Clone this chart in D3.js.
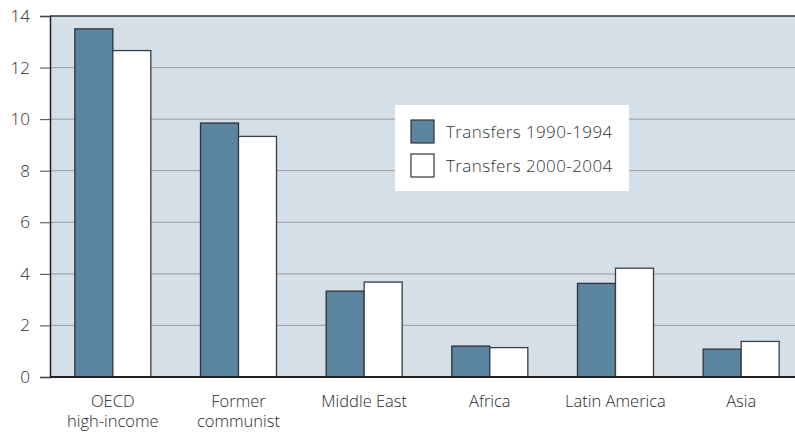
<!DOCTYPE html>
<html><head><meta charset="utf-8">
<script src="https://cdn.jsdelivr.net/npm/d3@7"></script>
<style>
body{margin:0;background:#fff;}
text{font-family:"Open Sans","Noto Sans",sans-serif;font-weight:300;}
</style></head><body>
<svg id="c" width="795" height="432"></svg>
<script>
const categories = [["OECD","high-income"],["Former","communist"],["Middle East"],["Africa"],["Latin America"],["Asia"]];
const transfers1990 = [13.5, 9.85, 3.33, 1.2, 3.63, 1.08];
const transfers2000 = [12.66, 9.33, 3.68, 1.14, 4.22, 1.38];
const seriesNames = ["Transfers 1990-1994", "Transfers 2000-2004"];
const yTicks = [0,2,4,6,8,10,12,14];

const svg = d3.select("#c");
const L=50, T=16, R=795, B=377;
const y = d3.scaleLinear().domain([0,14]).range([B,T]);
const x = d3.scaleBand().domain(d3.range(categories.length)).range([L,804]).padding(0);
const bw = 38;

svg.append("rect").attr("x",L).attr("y",T).attr("width",R-L).attr("height",B-T).attr("fill","#d5dfe8");
svg.append("g").selectAll("line").data(yTicks.filter(d=>d>0&&d<14)).join("line")
  .attr("x1",L).attr("x2",R).attr("y1",d=>y(d)).attr("y2",d=>y(d))
  .attr("stroke","#a2a6aa").attr("stroke-width",1.2);
svg.append("line").attr("x1",L).attr("x2",R).attr("y1",T).attr("y2",T).attr("stroke","#333").attr("stroke-width",1.5);

const g = svg.append("g");
categories.forEach((c,i)=>{
  const cx = x(i)+x.bandwidth()/2;
  g.append("rect").attr("x",cx-bw).attr("y",y(transfers1990[i])).attr("width",bw).attr("height",B-y(transfers1990[i]))
    .attr("fill","#5b84a0").attr("stroke","#2e3338").attr("stroke-width",1.3);
  g.append("rect").attr("x",cx).attr("y",y(transfers2000[i])).attr("width",bw).attr("height",B-y(transfers2000[i]))
    .attr("fill","#fff").attr("stroke","#3a3d40").attr("stroke-width",1.3);
});

const ya = svg.append("g").attr("transform",`translate(${L},0)`)
  .call(d3.axisLeft(y).tickValues(yTicks).tickSize(10).tickPadding(10).tickFormat(d3.format("d")));
ya.select(".domain").attr("stroke","#222").attr("stroke-width",1.5);
ya.selectAll(".tick line").attr("stroke","#444");
ya.selectAll(".tick text").attr("font-size",17).attr("fill","#2a2a2a").attr("font-family","'Open Sans','Noto Sans',sans-serif").attr("font-weight",300);

svg.append("line").attr("x1",L).attr("x2",R).attr("y1",B).attr("y2",B).attr("stroke","#222").attr("stroke-width",2);

categories.forEach((c,i)=>{
  const cx = x(i)+x.bandwidth()/2;
  c.forEach((s,j)=>svg.append("text").attr("x",cx).attr("y",407+j*20)
    .attr("text-anchor","middle").attr("font-size",16.5).attr("fill","#2a2a2a").text(s));
});

const lg = svg.append("g");
lg.append("rect").attr("x",395).attr("y",105).attr("width",234).attr("height",86).attr("fill","#fff");
const fills=["#5b84a0","#fff"];
seriesNames.forEach((s,i)=>{
  lg.append("rect").attr("x",411).attr("y",120+i*34).attr("width",23).attr("height",23).attr("fill",fills[i]).attr("stroke","#333").attr("stroke-width",1.2);
  lg.append("text").attr("x",446).attr("y",138+i*34).attr("font-size",17).attr("letter-spacing",0.4).attr("fill","#333").text(s);
});
</script></body></html>
